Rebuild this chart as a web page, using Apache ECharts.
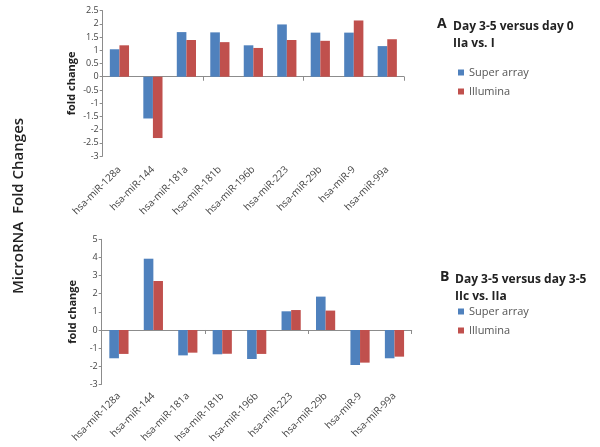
<!DOCTYPE html>
<html><head><meta charset="utf-8">
<script src="https://cdn.jsdelivr.net/npm/echarts@6/dist/echarts.min.js"></script>
<style>html,body{margin:0;padding:0;background:#fff}#c{width:600px;height:447px}</style>
</head><body><div id="c"></div>
<script>
var categories = ['hsa-miR-128a','hsa-miR-144','hsa-miR-181a','hsa-miR-181b','hsa-miR-196b','hsa-miR-223','hsa-miR-29b','hsa-miR-9','hsa-miR-99a'];
var superA = [1.04,-1.58,1.69,1.68,1.19,1.98,1.67,1.67,1.16];
var illuminaA = [1.19,-2.32,1.39,1.31,1.09,1.39,1.36,2.13,1.42];
var superB = [-1.56,3.93,-1.40,-1.34,-1.60,1.03,1.84,-1.93,-1.56];
var illuminaB = [-1.32,2.70,-1.25,-1.31,-1.32,1.10,1.07,-1.80,-1.47];
var seriesNames = ['Super array','Illumina'];

var FONT = 'Open Sans';
var BLUE = '#4F81BD', RED = '#C0504D', AX = '#8c8c8c';
var chart = echarts.init(document.getElementById('c'));

function xAxes(gi, margin){
  return [
    {type:'category', gridIndex:gi, data:categories, axisLine:{onZero:true, lineStyle:{color:AX}},
     axisTick:{show:true, length:4, lineStyle:{color:AX}}, axisLabel:{show:false}},
    {type:'category', gridIndex:gi, data:categories, position:'bottom', axisLine:{show:false, onZero:false},
     axisTick:{show:false}, axisLabel:{rotate:45, margin:margin, fontSize:10, color:'#444', fontFamily:FONT}}
  ];
}
function yAxis(gi, min, max, interval, gap){
  return {type:'value', gridIndex:gi, min:min, max:max, interval:interval,
    name:'fold change', nameLocation:'middle', nameRotate:90, nameGap:gap, nameMoveOverlap:false,
    nameTextStyle:{fontSize:11, fontWeight:'bold', color:'#222', fontFamily:FONT},
    axisLine:{show:true, lineStyle:{color:AX}}, axisTick:{show:true, length:3, lineStyle:{color:AX}},
    splitLine:{show:false}, axisLabel:{fontSize:9, color:'#444', fontFamily:FONT, margin:4}};
}
function bar(name, data, xi, yi, color){
  return {type:'bar', name:name, data:data, xAxisIndex:xi, yAxisIndex:yi, barWidth:9.6, barGap:'0%',
    itemStyle:{color:color}, animation:false};
}

chart.setOption({
  animation:false,
  grid:[
    {left:102.7, right:196, top:10.7, bottom:291},
    {left:101.7, right:188.3, top:239.3, bottom:62.6}
  ],
  xAxis: xAxes(0, 12).concat(xAxes(1, 10)),
  yAxis:[ yAxis(0, -3, 2.5, 0.5, 25), yAxis(1, -3, 5, 1, 23) ],
  series:[
    bar(seriesNames[0], superA, 0, 0, BLUE),
    bar(seriesNames[1], illuminaA, 0, 0, RED),
    bar(seriesNames[0], superB, 2, 1, BLUE),
    bar(seriesNames[1], illuminaB, 2, 1, RED)
  ],
  legend:[
    {orient:'vertical', left:453, top:62, itemWidth:6, itemHeight:6, itemGap:8, icon:'rect', data:seriesNames,
     textStyle:{fontSize:11, color:'#555', fontFamily:FONT}},
    {orient:'vertical', left:453, top:301, itemWidth:6, itemHeight:6, itemGap:8, icon:'rect', data:seriesNames,
     textStyle:{fontSize:11, color:'#555', fontFamily:FONT}}
  ],
  graphic:[
    {type:'text', left:437, top:17, style:{text:'A', font:'bold 14px "Open Sans"', fill:'#222'}},
    {type:'text', left:453, top:18, style:{text:'Day 3-5 versus day 0\nIIa vs. I', font:'bold 12px "Open Sans"', fill:'#222', lineHeight:17}},
    {type:'text', left:440, top:270, style:{text:'B', font:'bold 14px "Open Sans"', fill:'#222'}},
    {type:'text', left:455, top:271, style:{text:'Day 3-5 versus day 3-5\nIIc vs. IIa', font:'bold 12px "Open Sans"', fill:'#222', lineHeight:17}},
    {type:'text', x:19, y:206, rotation:Math.PI/2, style:{text:'MicroRNA  Fold Changes', font:'600 15px "Open Sans"', fill:'#222', align:'center', verticalAlign:'middle'}}
  ]
});
</script></body></html>
